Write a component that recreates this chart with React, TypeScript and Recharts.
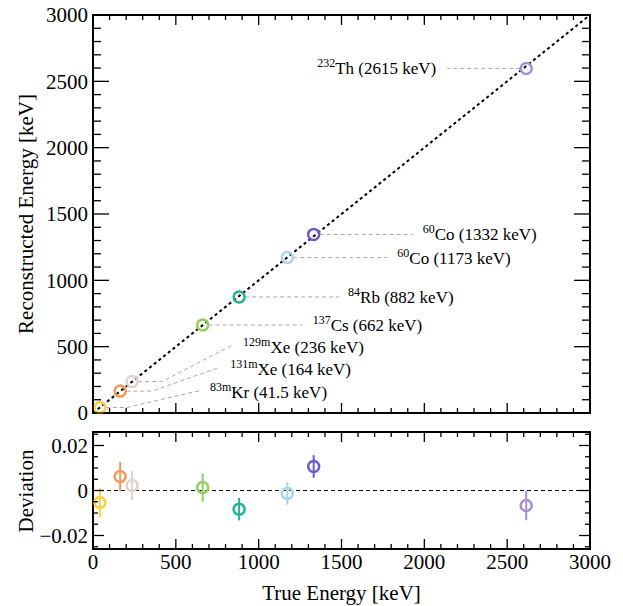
import React from "react";
import { ScatterChart, Scatter, XAxis, YAxis, ReferenceLine, ReferenceArea, ErrorBar } from "recharts";

// calibration sources
const isotopes = ["83m", "131m", "129m", "137", "84", "60", "60", "232"];
const elements = ["Kr", "Xe", "Xe", "Cs", "Rb", "Co", "Co", "Th"];
const trueEnergy = [41.5, 164, 236, 662, 882, 1173, 1332, 2615];
const recoEnergy = [41.3, 165.0, 236.5, 662.9, 874.7, 1171.5, 1346.3, 2597.5];
const deviation = [-0.0053, 0.0062, 0.0022, 0.0013, -0.0083, -0.0013, 0.0107, -0.0067];
const deviationErr = [0.0065, 0.0065, 0.0065, 0.0063, 0.005, 0.005, 0.005, 0.0065];

const energyTicks = [0, 500, 1000, 1500, 2000, 2500, 3000];
const deviationTicks = [-0.02, 0, 0.02];

const colors = ["#fbd13f", "#f4975a", "#ddd3cc", "#8fd05f", "#1fb391", "#a9d3e6", "#6a5acd", "#a68ed6"];

// leader line / label placement, pixels relative to the marker
const labelLayout = [
  { path: [[6, 0], [27, 0], [100, -17]], tx: 110, ty: -16, anchor: "start" },
  { path: [[6, 0], [32, 0], [100, -24]], tx: 110, ty: -22, anchor: "start" },
  { path: [[6, 0], [30, 0], [101, -37]], tx: 111, ty: -35, anchor: "start" },
  { path: [[6, 0], [100, 0]], tx: 110, ty: 0, anchor: "start" },
  { path: [[6, 0], [100, 0]], tx: 109, ty: 0, anchor: "start" },
  { path: [[6, 0], [100, 0]], tx: 110, ty: 0, anchor: "start" },
  { path: [[6, 0], [99, 0]], tx: 109, ty: 0, anchor: "start" },
  { path: [[-6, 0], [-79, 0]], tx: -90, ty: 0, anchor: "end" },
];

const W = 623;
const LEFT = 93;
const RIGHT = 590;
const FONT = 21;
const SERIF = "'Liberation Serif', 'DejaVu Serif', serif";

const energyMinor = Array.from({ length: 31 }, (_, i) => i * 100);
const devMinor = Array.from({ length: 11 }, (_, i) => Math.round((i * 0.005 - 0.025) * 1000) / 1000);

const fmtDev = (v: number) => (v === 0 ? "0" : v < 0 ? "\u2212" + Math.abs(v).toString() : v.toString());

const makeXTick = (top: number, bottom: number, showLabel: boolean) => (p: any) => {
  const x = p.x;
  const v = p.payload.value;
  const major = energyTicks.includes(v);
  const len = major ? 10 : 5;
  return (
    <g>
      <line x1={x} x2={x} y1={bottom} y2={bottom - len} stroke="#000" strokeWidth={1.3} />
      <line x1={x} x2={x} y1={top} y2={top + len} stroke="#000" strokeWidth={1.3} />
      {showLabel && major && (
        <text x={x} y={bottom + 20} textAnchor="middle" fontSize={FONT} fontFamily={SERIF} fill="#000">
          {v}
        </text>
      )}
    </g>
  );
};

const makeYTick = (majors: number[], majLen: number, minLen: number, fmt: (v: number) => string) => (p: any) => {
  const y = p.y;
  const v = p.payload.value;
  const major = majors.some((m) => Math.abs(m - v) < 1e-9);
  const len = major ? majLen : minLen;
  return (
    <g>
      <line x1={LEFT} x2={LEFT + len} y1={y} y2={y} stroke="#000" strokeWidth={1.3} />
      <line x1={RIGHT} x2={RIGHT - len} y1={y} y2={y} stroke="#000" strokeWidth={1.3} />
      {major && (
        <text x={LEFT - 5} y={y} dy="0.35em" textAnchor="end" fontSize={FONT} fontFamily={SERIF} fill="#000">
          {fmt(v)}
        </text>
      )}
    </g>
  );
};

// cy is in the chart's own coordinates
const yTitle = (text: string, cy: number) => () => (
  <text x={33} y={cy} transform={`rotate(-90 33 ${cy})`} textAnchor="middle" fontSize={FONT} fontFamily={SERIF} fill="#000">
    {text}
  </text>
);

const TopPoint = (props: any) => {
  const { cx, cy, payload } = props;
  const i = payload.i;
  const lay = labelLayout[i];
  const pts = lay.path.map(([dx, dy]) => `${cx + dx},${cy + dy}`).join(" ");
  return (
    <g>
      <polyline points={pts} fill="none" stroke="#a8a8a8" strokeWidth={1} strokeDasharray="4 3" />
      <circle cx={cx} cy={cy} r={5.5} fill="none" stroke={colors[i]} strokeWidth={2.5} />
      <text x={cx + lay.tx} y={cy + lay.ty + 6} textAnchor={lay.anchor as any} fontSize={17} fontFamily={SERIF} fill="#000">
        <tspan fontSize={12} dy={-7}>{isotopes[i]}</tspan>
        <tspan dy={7}>{`${elements[i]} (${trueEnergy[i]} keV)`}</tspan>
      </text>
    </g>
  );
};

export default function App() {
  const topData = trueEnergy.map((e, i) => ({ x: e, y: recoEnergy[i], i }));

  return (
    <div style={{ position: "absolute", left: 0, top: 0, width: W, height: 606, background: "#fff", fontFamily: SERIF }}>
      <div style={{ position: "absolute", left: 0, top: 0 }}>
        <ScatterChart width={W} height={430} margin={{ top: 15, right: W - RIGHT, bottom: 0, left: 0 }}>
          <XAxis
            type="number"
            dataKey="x"
            domain={[0, 3000]}
            ticks={energyMinor}
            interval={0}
            height={17}
            axisLine={false}
            tickLine={false}
            tick={makeXTick(15, 413, false)}
          />
          <YAxis
            type="number"
            dataKey="y"
            domain={[0, 3000]}
            ticks={energyMinor}
            interval={0}
            width={LEFT}
            axisLine={false}
            tickLine={false}
            tick={makeYTick(energyTicks, 16, 8, (v) => String(v))}
            label={{ value: "Reconstructed Energy [keV]", content: yTitle("Reconstructed Energy [keV]", 214) }}
          />
          <ReferenceArea x1={0} x2={3000} y1={0} y2={3000} fill="none" stroke="#000" strokeWidth={2} ifOverflow="visible" />
          <ReferenceLine
            segment={[{ x: 0, y: 0 }, { x: 3000, y: 3000 }]}
            stroke="#000"
            strokeWidth={2}
            strokeDasharray="3 3"
          />
          <Scatter data={topData} isAnimationActive={false} shape={TopPoint} />
        </ScatterChart>
      </div>
      <div style={{ position: "absolute", left: 0, top: 420 }}>
        <ScatterChart width={W} height={186} margin={{ top: 12, right: W - RIGHT, bottom: 0, left: 0 }}>
          <XAxis
            type="number"
            dataKey="x"
            domain={[0, 3000]}
            ticks={energyMinor}
            interval={0}
            height={57}
            axisLine={false}
            tickLine={false}
            tick={makeXTick(12, 129, true)}
            label={{ value: "True Energy [keV]", position: "insideBottom", offset: 6, fontSize: FONT, fontFamily: SERIF, fill: "#000" }}
          />
          <YAxis
            type="number"
            dataKey="y"
            domain={[-0.026, 0.026]}
            ticks={devMinor}
            interval={0}
            width={LEFT}
            axisLine={false}
            tickLine={false}
            tick={makeYTick(deviationTicks, 11, 5, fmtDev)}
            label={{ value: "Deviation", content: yTitle("Deviation", 71) }}
          />
          <ReferenceArea x1={0} x2={3000} y1={-0.026} y2={0.026} fill="none" stroke="#000" strokeWidth={2} ifOverflow="visible" />
          <ReferenceLine y={0} stroke="#000" strokeWidth={1.2} strokeDasharray="4 3" />
          {trueEnergy.map((e, i) => (
            <Scatter
              key={i}
              data={[{ x: e, y: deviation[i], err: deviationErr[i] }]}
              isAnimationActive={false}
              shape={(p: any) => <circle cx={p.cx} cy={p.cy} r={5.5} fill="none" stroke={colors[i]} strokeWidth={2.5} />}
            >
              <ErrorBar dataKey="err" direction="y" width={0} stroke={colors[i]} strokeWidth={2} isAnimationActive={false} />
            </Scatter>
          ))}
        </ScatterChart>
      </div>
    </div>
  );
}
